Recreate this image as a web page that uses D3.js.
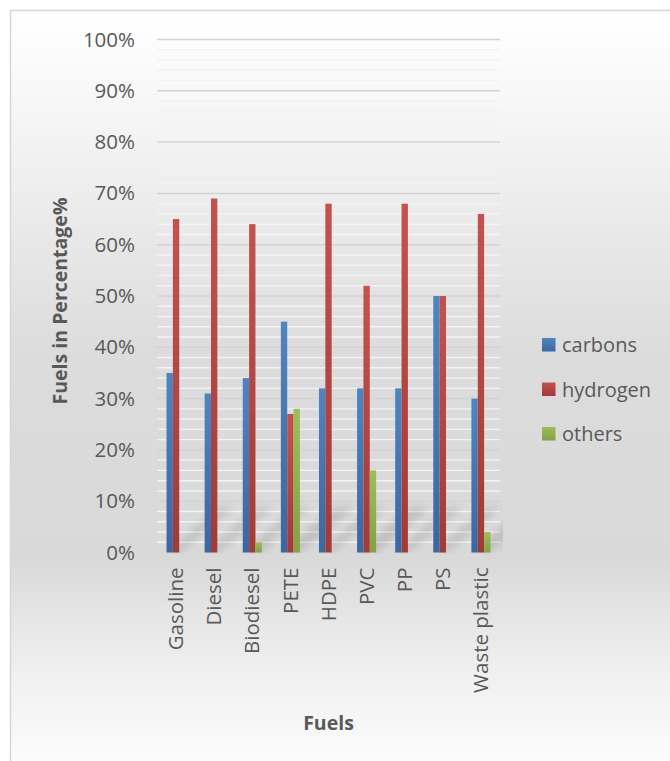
<!DOCTYPE html>
<html>
<head>
<meta charset="utf-8">
<script src="https://cdn.jsdelivr.net/npm/d3@7"></script>
<style>
  html, body { margin: 0; padding: 0; background: #ffffff; }
  svg { display: block; }
  text { font-family: "Open Sans", "Noto Sans", sans-serif; fill: #595959; }
</style>
</head>
<body>
<svg id="chart" width="670" height="761"></svg>
<script>
// Elemental composition of fuels (percent)
const categories = ["Gasoline", "Diesel", "Biodiesel", "PETE", "HDPE", "PVC", "PP", "PS", "Waste plastic"];
const seriesNames = ["carbons", "hydrogen", "others"];
const carbons  = [35, 31, 34, 45, 32, 32, 32, 50, 30];
const hydrogen = [65, 69, 64, 27, 68, 52, 68, 50, 66];
const others   = [0, 0, 2, 28, 0, 16, 0, 0, 4];
const yTicks = [0, 10, 20, 30, 40, 50, 60, 70, 80, 90, 100];
const yTickLabels = ["0%", "10%", "20%", "30%", "40%", "50%", "60%", "70%", "80%", "90%", "100%"];

const seriesValues = [carbons, hydrogen, others];
const colorsTop = ["#5084c1", "#c3524f", "#9dbd5a"];
const colorsBottom = ["#3b67a1", "#a13b38", "#84a243"];

const svg = d3.select("#chart");
const W = 670, H = 761;
const plot = { left: 157, right: 500, top: 39.5, bottom: 552.5 };

const defs = svg.append("defs");

// chart area background: white at top, grey in the middle, fading out at the bottom
const bg = defs.append("linearGradient").attr("id", "bgGrad")
  .attr("x1", 0).attr("y1", 0).attr("x2", 0).attr("y2", 1);
[[0, "#ffffff"], [0.12, "#f7f7f7"], [0.3, "#e8e8e8"], [0.45, "#dcdcdc"], [0.72, "#d9d9d9"],
 [0.8, "#e6e6e6"], [0.88, "#f1f1f1"], [1, "#fdfdfd"]]
  .forEach(([o, c]) => bg.append("stop").attr("offset", o).attr("stop-color", c));

seriesNames.forEach((s, i) => {
  const g = defs.append("linearGradient").attr("id", "barGrad" + i)
    .attr("x1", 0).attr("y1", 0).attr("x2", 0).attr("y2", 1);
  g.append("stop").attr("offset", 0).attr("stop-color", colorsTop[i]);
  g.append("stop").attr("offset", 1).attr("stop-color", colorsBottom[i]);
});

defs.append("filter").attr("id", "soft")
  .attr("x", "-50%").attr("y", "-50%").attr("width", "200%").attr("height", "200%")
  .append("feGaussianBlur").attr("stdDeviation", 4);

defs.append("clipPath").attr("id", "plotClip")
  .append("rect")
  .attr("x", plot.left).attr("y", plot.top)
  .attr("width", plot.right - plot.left + 3).attr("height", plot.bottom - plot.top + 1);

// chart frame
svg.append("rect")
  .attr("x", 10.5).attr("y", 10.5).attr("width", W).attr("height", H)
  .attr("fill", "url(#bgGrad)")
  .attr("stroke", "#d6d6d6").attr("stroke-width", 1.5);

// scales
const x0 = d3.scaleBand().domain(categories).range([plot.left, plot.right]).paddingInner(0).paddingOuter(0);
const groupW = x0.bandwidth() * 0.5;
const x1 = d3.scaleBand().domain(seriesNames).range([0, groupW]).padding(0);
const y = d3.scaleLinear().domain([0, 100]).range([plot.bottom, plot.top]);

// gridlines: minor every 2%, major every 10%
const minor = d3.range(0, 101, 2).filter(v => v % 10 !== 0);
svg.append("g").selectAll("line").data(minor).join("line")
  .attr("x1", plot.left).attr("x2", plot.right)
  .attr("y1", d => y(d)).attr("y2", d => y(d))
  .attr("stroke", "#f3f3f3").attr("stroke-width", 1.4);
svg.append("g").selectAll("line").data(yTicks.filter(v => v > 0)).join("line")
  .attr("x1", plot.left).attr("x2", plot.right)
  .attr("y1", d => y(d)).attr("y2", d => y(d))
  .attr("stroke", "#d3d3d3").attr("stroke-width", 1.5);

// flat data for marks
const barData = [];
categories.forEach((c, ci) => {
  seriesNames.forEach((s, si) => {
    barData.push({ cat: c, series: s, si, value: seriesValues[si][ci] });
  });
});

const groupX = c => x0(c) + (x0.bandwidth() - groupW) / 2;

// soft cast shadows at the foot of the bars
svg.append("g").attr("clip-path", "url(#plotClip)")
  .attr("filter", "url(#soft)").attr("opacity", 0.13)
  .selectAll("path").data(barData.filter(d => d.value > 0)).join("path")
  .attr("d", d => {
    const xa = groupX(d.cat) + x1(d.series);
    const xb = xa + x1.bandwidth();
    const yb = y(0);
    const h = Math.min(y(0) - y(d.value), 45);
    const dx = h * 1.2;
    return `M${xa},${yb} L${xb},${yb} L${xb + dx},${yb - h} L${xa + dx},${yb - h} Z`;
  })
  .attr("fill", "#000000");

// bars
svg.append("g").selectAll("rect").data(barData.filter(d => d.value > 0)).join("rect")
  .attr("x", d => groupX(d.cat) + x1(d.series))
  .attr("width", x1.bandwidth())
  .attr("y", d => y(d.value))
  .attr("height", d => y(0) - y(d.value))
  .attr("fill", d => `url(#barGrad${d.si})`);

// y tick labels
const yAxis = d3.axisLeft(y).tickValues(yTicks)
  .tickFormat((d, i) => yTickLabels[i]).tickSize(0).tickPadding(0);
const yG = svg.append("g").attr("transform", "translate(135,0)").call(yAxis);
yG.select(".domain").remove();
yG.selectAll("text")
  .attr("font-size", "20.5px").attr("fill", "#595959")
  .style("font-family", "'Open Sans', sans-serif");

// category labels (rotated)
const xAxis = d3.axisBottom(x0).tickSize(0).tickPadding(0);
const xG = svg.append("g").attr("transform", `translate(0,${plot.bottom})`).call(xAxis);
xG.select(".domain").remove();
xG.selectAll("text")
  .attr("font-size", "20.5px").attr("fill", "#595959")
  .style("font-family", "'Open Sans', sans-serif")
  .attr("transform", "rotate(-90)")
  .attr("text-anchor", "end")
  .attr("x", -15).attr("y", 0)
  .attr("dy", "0.35em");

// axis titles
svg.append("text")
  .attr("x", (plot.left + plot.right) / 2).attr("y", 730)
  .attr("text-anchor", "middle")
  .attr("font-size", "19.5px").attr("font-weight", "bold")
  .text("Fuels");

svg.append("text")
  .attr("transform", "translate(67,301) rotate(-90)")
  .attr("text-anchor", "middle")
  .attr("font-size", "19.5px").attr("font-weight", "bold")
  .text("Fuels in Percentage%");

// legend
const legend = svg.append("g").selectAll("g").data(seriesNames).join("g")
  .attr("transform", (d, i) => `translate(542,${338 + i * 44.5})`);
legend.append("rect")
  .attr("width", 13.5).attr("height", 13.5)
  .attr("fill", (d, i) => `url(#barGrad${i})`);
legend.append("text")
  .attr("x", 20).attr("y", 7)
  .attr("dy", "0.35em")
  .attr("font-size", "20px")
  .text(d => d);
</script>
</body>
</html>
